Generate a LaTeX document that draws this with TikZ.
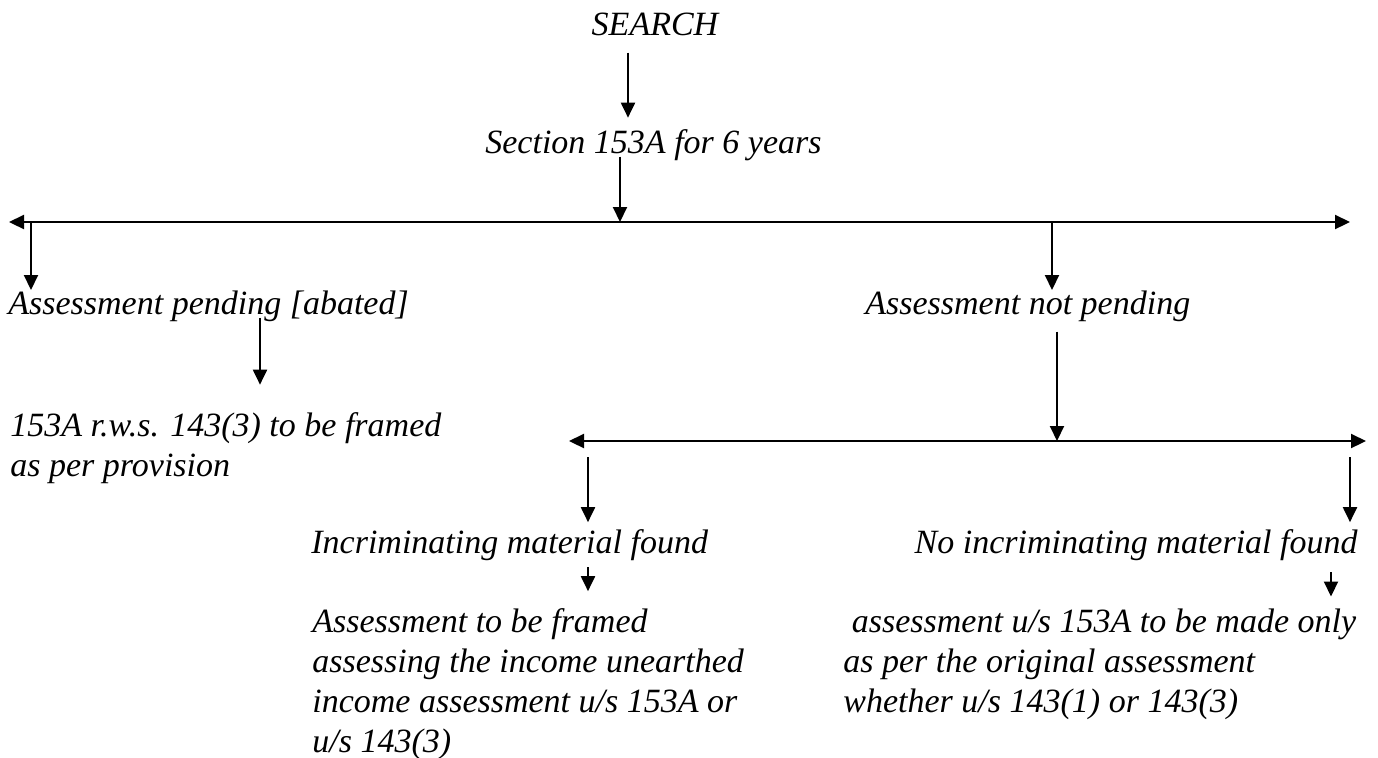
\documentclass[tikz,border=0pt]{standalone}
\usepackage{fontspec}
\setmainfont{Liberation Serif}
\usetikzlibrary{arrows.meta}
\usetikzlibrary{positioning}

\tikzset{
	txt/.style={font=\itshape\fontsize{17}{20}\selectfont,inner sep=0pt,anchor=base west,align=left},
	arr/.style={line width=1pt,-{Triangle[length=7.5pt,width=7pt]}},
	harr/.style={line width=1.1pt,{Triangle[length=7.5pt,width=7pt]}-{Triangle[length=7.5pt,width=7pt]}}
}

\begin{document}
\begin{tikzpicture}[x=0.5pt,y=-0.5pt]
	\useasboundingbox (0,0) rectangle (1378,757);
	% top
	\node[txt,anchor=base] (search) at (655,35) {SEARCH};
	\node[txt] (sec) at (485,153) {Section 153A for 6 years};
	\coordinate (a1) at (628,0);
	\draw[arr,shorten <=8.5pt,shorten >=5.5pt] (search.south -| a1) -- (sec.north -| a1);
	% first split
	\coordinate (l1w) at (9,222);
	\coordinate (l1e) at (1350,222);
	\coordinate (l1m) at (620,222);
	\draw[harr] (l1w) -- (l1e);
	\draw[arr,shorten <=-2pt] (sec.south -| l1m) -- (l1m);
	\node[txt] (pend) at (8,314) {Assessment pending [abated]};
	\node[txt] (npend) at (865,314) {Assessment not pending};
	\coordinate (d1) at (31,222);
	\coordinate (d2) at (1052,222);
	\draw[arr] (d1) -- (d1 |- pend.north);
	\draw[arr] (d2) -- (d2 |- npend.north);
	% left branch (base = last line)
	\node[txt] (prov) at (10,476) {153A r.w.s. 143(3) to be framed\\as per provision};
	\coordinate (a3) at (260,0);
	\draw[arr,shorten <=-2pt,shorten >=13.5pt] (pend.south -| a3) -- (prov.north -| a3);
	% second split
	\coordinate (l2w) at (569,441);
	\coordinate (l2e) at (1366,441);
	\coordinate (l2m) at (1057,441);
	\draw[harr] (l2w) -- (l2e);
	\draw[arr,shorten <=5pt] (npend.south -| l2m) -- (l2m);
	\node[txt] (inc) at (311,553) {Incriminating material found};
	\node[txt,anchor=base east] (noinc) at (1358,553) {No incriminating material found};
	\coordinate (d3) at (588,441);
	\coordinate (d4) at (1350,441);
	\draw[arr,shorten <=8pt,shorten >=3.25pt] (d3) -- (d3 |- inc.north);
	\draw[arr,shorten <=8pt,shorten >=3.25pt] (d4) -- (d4 |- noinc.north);
	% results (base = last line)
	\node[txt] (frm) at (312,752) {Assessment to be framed\\assessing the income unearthed\\income assessment u/s 153A or\\u/s 143(3)};
	\node[txt] (only) at (843,712) {\hspace*{0.25em}assessment u/s 153A to be made only\\as per the original assessment\\whether u/s 143(1) or 143(3)};
	\coordinate (s1) at (588,0);
	\coordinate (s2) at (1331,0);
	\draw[arr,shorten <=3.25pt,shorten >=8.25pt] (inc.south -| s1) -- (frm.north -| s1);
	\draw[arr,shorten <=5.75pt,shorten >=5.75pt] (noinc.south -| s2) -- (only.north -| s2);
\end{tikzpicture}
\end{document}
